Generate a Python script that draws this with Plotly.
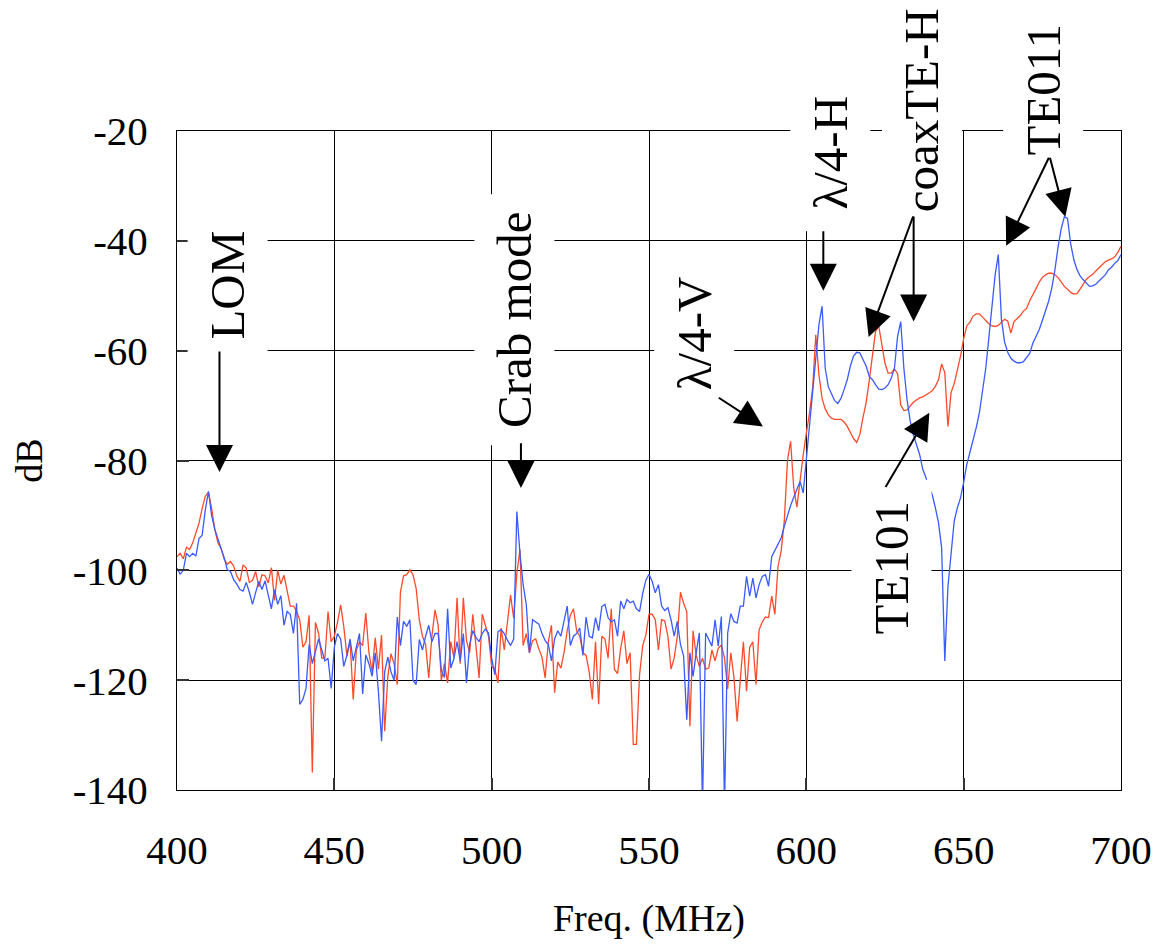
import plotly.graph_objects as go

# ---------------- data ----------------
freq_mhz = list(range(400, 701))

red_db = [
    -97.5, -96.9, -97.9, -95.8, -96.2, -95.0, -93.2, -91.4, -88.7, -86.5,
    -85.8, -88.7, -92.5, -95.0, -96.0, -98.0, -98.9, -98.4, -99.2, -101.0,
    -102.0, -99.0, -99.6, -102.2, -101.8, -100.2, -103.0, -100.8, -101.0, -102.3,
    -99.5, -105.5, -100.0, -102.5, -100.9, -103.8, -106.5, -106.5, -107.5, -109.0,
    -114.0, -113.0, -108.2, -136.8, -109.5, -111.5, -116.0, -116.0, -107.5, -113.0,
    -112.0, -109.5, -106.3, -110.2, -115.6, -112.8, -123.5, -114.5, -113.0, -113.7,
    -107.8, -115.0, -118.5, -112.3, -118.0, -111.8, -129.3, -119.3, -115.2, -117.0,
    -120.8, -104.0, -101.0, -100.8, -99.9, -100.8, -103.3, -109.0, -112.0, -113.5,
    -119.6, -112.0, -107.2, -110.0, -120.0, -117.0, -120.5, -113.0, -115.9, -105.0,
    -117.0, -105.0, -112.8, -115.0, -108.0, -113.7, -119.6, -108.0, -110.0, -112.0,
    -117.5, -118.0, -120.5, -110.5, -114.5, -109.7, -104.5, -108.7, -100.5, -96.2,
    -113.7, -111.5, -115.0, -112.8, -112.5, -114.3, -115.8, -119.6, -113.0, -110.0,
    -122.3, -116.7, -117.8, -115.0, -111.0, -108.2, -107.0, -111.0, -112.0, -115.0,
    -115.5, -118.5, -123.5, -113.0, -124.4, -112.0, -112.5, -116.0, -107.0, -118.0,
    -118.8, -114.2, -111.0, -117.0, -115.0, -131.7, -131.7, -119.0, -113.7, -111.8,
    -108.0, -108.0, -109.0, -114.5, -109.0, -109.2, -112.0, -118.0, -116.0, -112.0,
    -104.0, -106.0, -107.5, -128.4, -111.0, -115.5, -117.5, -116.0, -118.0, -117.8,
    -114.5, -116.5, -114.2, -113.6, -116.0, -121.6, -115.0, -119.5, -127.5, -120.0,
    -113.0, -122.0, -114.0, -113.0, -120.8, -110.8, -109.4, -108.5, -108.6, -104.7,
    -108.0, -99.3, -96.5, -91.0, -80.0, -76.5, -85.0, -88.5, -83.5, -79.0,
    -75.0, -71.4, -66.8, -57.1, -64.4, -68.7, -70.6, -71.7, -72.3, -72.5,
    -72.5, -72.5, -73.0, -73.8, -74.9, -76.0, -76.7, -75.3, -72.2, -69.5,
    -65.4, -61.0, -56.5, -55.5, -58.8, -62.3, -64.1, -64.1, -63.3, -64.2,
    -69.9, -70.9, -70.8, -70.0, -69.4, -69.0, -68.6, -68.4, -68.1, -67.7,
    -67.3, -66.5, -65.3, -62.4, -64.0, -73.8, -67.6, -66.0, -63.5, -61.0,
    -57.8, -55.5, -54.8, -53.7, -53.3, -53.3, -53.9, -54.5, -55.1, -55.5,
    -55.6, -55.4, -54.8, -54.3, -54.6, -56.8, -54.7, -54.1, -53.6, -52.8,
    -52.3, -50.9, -49.9, -48.7, -47.5, -46.7, -46.2, -45.9, -45.9, -46.2,
    -46.7, -47.5, -48.3, -48.8, -49.4, -49.7, -49.6, -48.8, -47.9, -47.0,
    -46.5, -46.1, -45.5, -44.9, -44.4, -43.8, -43.5, -43.3, -42.9, -42.1,
    -41.0,
]

blue_db = [
    -99.6, -100.7, -100.0, -96.9, -97.5, -96.9, -97.4, -94.2, -93.6, -89.0,
    -85.6, -90.0, -92.5, -94.5, -96.0, -97.7, -99.9, -100.2, -101.7, -102.5,
    -103.5, -103.8, -102.2, -104.0, -106.2, -104.0, -102.0, -103.5, -101.9, -104.5,
    -107.0, -103.5, -106.2, -104.6, -110.0, -107.5, -108.0, -111.5, -106.0, -124.4,
    -123.5, -121.5, -113.5, -117.0, -114.5, -112.5, -114.5, -116.5, -116.0, -121.5,
    -114.0, -111.5, -112.5, -117.5, -115.5, -112.5, -116.5, -113.7, -111.5, -122.5,
    -115.4, -117.0, -119.3, -115.0, -122.0, -131.1, -118.5, -115.8, -118.5, -120.0,
    -108.5, -113.7, -109.3, -110.2, -109.0, -120.0, -120.8, -112.6, -114.5, -112.0,
    -110.0, -113.0, -111.5, -111.5, -118.2, -119.5, -107.0, -117.8, -116.1, -113.0,
    -116.5, -111.5, -120.5, -113.5, -111.0, -112.2, -113.0, -111.5, -110.7, -111.4,
    -116.0, -119.0, -111.2, -110.8, -111.5, -112.7, -113.7, -112.5, -89.3, -97.0,
    -102.6, -106.2, -115.0, -109.0, -109.4, -109.8, -111.5, -112.8, -113.5, -116.5,
    -112.5, -111.0, -112.0, -109.0, -106.5, -113.7, -112.0, -111.5, -110.5, -115.5,
    -108.5, -112.0, -112.3, -108.6, -111.0, -106.6, -106.2, -108.6, -109.4, -109.0,
    -112.0, -105.6, -107.0, -105.3, -105.9, -105.6, -107.0, -107.5, -104.2, -101.8,
    -100.7, -102.0, -104.1, -102.6, -106.5, -107.3, -106.8, -109.0, -112.0, -109.3,
    -113.5, -115.6, -127.2, -115.0, -119.3, -115.0, -111.4, -143.0, -111.4, -112.6,
    -113.8, -109.0, -113.8, -108.4, -143.0, -111.4, -107.9, -109.3, -109.6, -106.5,
    -106.5, -101.1, -104.7, -101.4, -105.0, -102.6, -101.1, -100.8, -102.9, -97.5,
    -96.4, -95.2, -94.1, -92.0, -89.9, -88.2, -86.7, -85.2, -83.8, -85.9,
    -80.0, -73.4, -67.4, -61.4, -55.3, -51.9, -63.2, -66.6, -68.0, -69.1,
    -69.6, -68.7, -67.1, -65.3, -62.8, -61.0, -60.3, -60.4, -61.6, -62.8,
    -64.7, -65.3, -66.2, -67.0, -67.1, -66.8, -66.2, -65.0, -63.2, -57.4,
    -54.7, -63.2, -68.9, -72.8, -75.3, -77.1, -78.9, -81.6, -83.1, -85.0,
    -86.2, -88.6, -91.3, -95.9, -116.5, -103.0, -96.2, -91.0, -88.6, -86.8,
    -84.0, -80.7, -78.5, -76.4, -74.0, -71.3, -67.5, -63.3, -57.7, -51.8,
    -46.2, -42.5, -54.3, -58.4, -60.3, -61.4, -61.9, -62.2, -62.2, -62.0,
    -61.3, -60.5, -58.6, -57.5, -56.2, -54.5, -52.6, -51.0, -48.6, -45.3,
    -41.1, -37.8, -35.6, -35.9, -40.5, -43.4, -45.2, -46.4, -47.1, -47.7,
    -48.3, -48.2, -47.9, -47.3, -46.8, -46.2, -45.3, -44.8, -44.1, -43.6,
    -42.5,
]

x_tick_vals = [400, 450, 500, 550, 600, 650, 700]
x_tick_text = ["400", "450", "500", "550", "600", "650", "700"]
y_tick_vals = [-140, -120, -100, -80, -60, -40, -20]
y_tick_text = ["-140", "-120", "-100", "-80", "-60", "-40", "-20"]

mode_labels = ["LOM", "Crab mode", "λ/4-V", "λ/4-H", "coaxTE-H", "TE101", "TE011"]

# ---------------- figure ----------------
FONT = "Liberation Serif, Times New Roman, serif"
RED = "#FF4A2A"
BLUE = "#3A5BFF"
Y_MIN, Y_MAX = -140, -20

fig = go.Figure()
fig.add_trace(go.Scatter(x=freq_mhz, y=red_db, mode="lines",
                         line=dict(color=RED, width=1.3), showlegend=False))
fig.add_trace(go.Scatter(x=freq_mhz, y=blue_db, mode="lines",
                         line=dict(color=BLUE, width=1.3), showlegend=False))

axis_common = dict(
    showgrid=True, gridcolor="black", gridwidth=1,
    ticks="inside", ticklen=12, tickwidth=2, tickcolor="#333333",
    showline=True, linecolor="black", linewidth=1, mirror=True,
    zeroline=False, automargin=False,
    tickfont=dict(family=FONT, size=41, color="black"),
)

fig.update_xaxes(range=[400, 700], tickvals=x_tick_vals, ticktext=x_tick_text,
                 ticklabelstandoff=24,
                 title=dict(text="Freq. (MHz)", font=dict(family=FONT, size=38, color="black"),
                            standoff=32),
                 **axis_common)
fig.update_yaxes(range=[Y_MIN, Y_MAX], tickvals=y_tick_vals, ticktext=y_tick_text,
                 ticklabelstandoff=20,
                 title=dict(text="dB", font=dict(family=FONT, size=38, color="black"),
                            standoff=18),
                 **axis_common)


def to_paper_y(db):
    return (db - Y_MIN) / (Y_MAX - Y_MIN)


# label boxes (white, covering the grid like the original text boxes)
label_pos = {
    "LOM": (416.0, -48.0, 140),
    "Crab mode": (507.2, -54.4, 251),
    "λ/4-V": (564.4, -56.8, 150),
    "λ/4-H": (607.6, -24.0, 157),
    "coaxTE-H": (636.8, -16.2, 214),
    "TE101": (627.1, -99.6, 176),
    "TE011": (675.2, -12.5, 150),
}
annotations = []
for name in mode_labels:
    lx, ly, blen = label_pos[name]
    annotations.append(dict(
        x=lx, y=to_paper_y(ly), xref="x", yref="paper", text=name, showarrow=False,
        xanchor="center", yanchor="middle",
        textangle=-90, font=dict(family=FONT, size=49, color="black"),
        bgcolor="white", borderwidth=0, borderpad=0, width=blen, height=80,
        align="center", valign="middle",
    ))

# arrows: (tail_x, tail_y, tip_x, tip_y)
arrows = [
    (413.5, -59.9, 413.5, -82.1),
    (509.3, -76.6, 509.3, -85.0),
    (571.7, -68.4, 586.2, -73.8),
    (605.4, -38.0, 605.4, -49.1),
    (634.1, -35.3, 619.8, -57.5),
    (634.1, -35.3, 634.1, -54.7),
    (624.9, -85.1, 639.1, -71.3),
    (677.3, -24.6, 663.5, -40.9),
    (677.3, -24.6, 682.3, -35.6),
]
for tx, ty, hx, hy in arrows:
    annotations.append(dict(
        x=hx, y=hy, xref="x", yref="y", ax=tx, ay=ty, axref="x", ayref="y",
        text="", showarrow=True, arrowhead=2, arrowsize=2.7, arrowwidth=2,
        arrowcolor="black", standoff=0,
    ))

fig.update_layout(
    width=1153, height=945,
    margin=dict(l=176.5, r=32, t=131, b=155, autoexpand=False),
    paper_bgcolor="white", plot_bgcolor="white",
    font=dict(family=FONT, color="black"),
    showlegend=False,
    annotations=annotations,
)

# remove the default page margin so the 1153x945 figure fills the window
fig.write_html("out.html",
               config={"displayModeBar": False},
               post_script="document.body.style.margin='0';document.body.style.overflow='hidden';")
